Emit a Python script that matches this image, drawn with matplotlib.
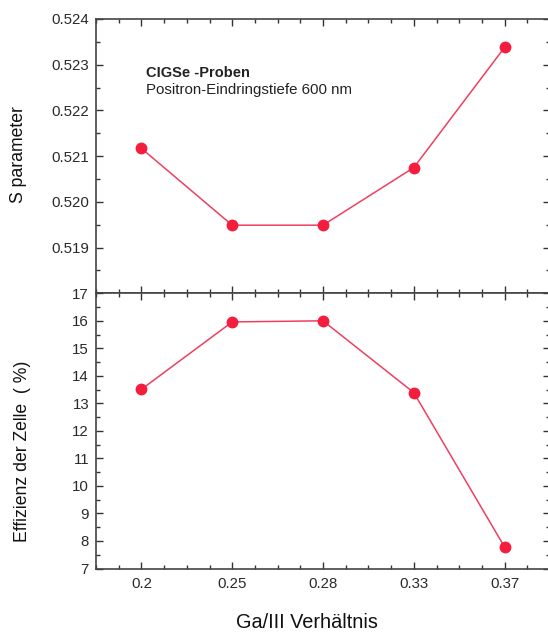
import matplotlib
matplotlib.use("Agg")
import matplotlib.pyplot as plt
from matplotlib.ticker import MultipleLocator, FixedLocator

plt.rcParams['font.family'] = ['Liberation Sans', 'DejaVu Sans']

ratio_labels = ["0.2", "0.25", "0.28", "0.33", "0.37"]
s_param = [0.52117, 0.51949, 0.51949, 0.52075, 0.52338]
efficiency = [13.51, 15.96, 16.00, 13.39, 7.78]

W, H = 548, 637
fig = plt.figure(figsize=(W / 100, H / 100), dpi=100)

left_px, right_px = 96, 550
top_px, mid_px, bot_px = 19, 293.3, 568.5


def px_axes(top, bottom):
    return fig.add_axes([left_px / W, 1 - bottom / H,
                         (right_px - left_px) / W, (bottom - top) / H])


ax_s = px_axes(top_px, mid_px)
ax_e = px_axes(mid_px, bot_px)

positions = list(range(1, len(ratio_labels) + 1))
line_color = "#ee3f62"
marker_color = "#f51d3d"

for ax, vals in ((ax_s, s_param), (ax_e, efficiency)):
    ax.plot(positions, vals, color=line_color, lw=1.1, marker="o", ms=7.5,
            mfc=marker_color, mec=marker_color, zorder=3)
    ax.set_xlim(0.5, 5.5)
    ax.xaxis.set_major_locator(FixedLocator(positions))
    ax.xaxis.set_minor_locator(MultipleLocator(0.25))
    ax.tick_params(which="both", direction="in", top=True, right=True,
                   colors="#333333", labelcolor="#2a2a2a", labelsize=10.8, width=1)
    ax.tick_params(which="major", length=5)
    ax.tick_params(which="minor", length=3)
    ax.tick_params(axis="y", pad=5)
    for sp in ax.spines.values():
        sp.set_color("#444444")
        sp.set_linewidth(1.2)

ax_s.set_ylim(0.518, 0.524)
ax_s.yaxis.set_minor_locator(MultipleLocator(0.0005))
ax_s.set_yticks([0.518, 0.519, 0.520, 0.521, 0.522, 0.523, 0.524])
ax_s.set_yticklabels(["", "0.519", "0.520", "0.521", "0.522", "0.523", "0.524"])
ax_s.tick_params(labelbottom=False)

ax_e.set_ylim(7, 17)
ax_e.yaxis.set_major_locator(MultipleLocator(1))
ax_e.yaxis.set_minor_locator(MultipleLocator(0.5))
ax_e.set_xticklabels(ratio_labels)
ax_e.tick_params(axis="x", pad=6)

fig.text(146 / W, 1 - 77 / H, "CIGSe -Proben", fontsize=10.5, fontweight="bold",
         color="#222222", va="baseline")
fig.text(146 / W, 1 - 94 / H, "Positron-Eindringstiefe 600 nm", fontsize=10.8,
         color="#222222", va="baseline")

fig.text(19 / W, 1 - 155 / H, "S parameter", rotation=90, fontsize=12.7,
         ha="center", va="center", color="#111111")
fig.text(23 / W, 1 - 451 / H, "Effizienz der Zelle  ( %)", rotation=90,
         fontsize=12.7, ha="center", va="center", color="#111111")
fig.text(307 / W, 1 - 622 / H, "Ga/III Verhältnis", fontsize=14.3,
         ha="center", va="center", color="#111111")

fig.savefig("out.png", dpi=100)
